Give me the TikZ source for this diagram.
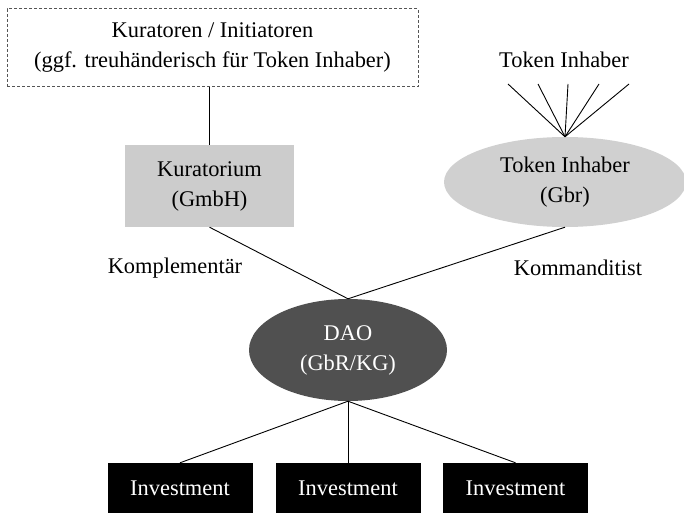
\documentclass[tikz,border=0pt]{standalone}
\usepackage{fontspec}
\setmainfont{Liberation Serif}
\usetikzlibrary{shapes.geometric}
\definecolor{boxgray}{HTML}{CCCCCC}
\definecolor{ellgray}{HTML}{D0D0D0}
\definecolor{daogray}{HTML}{505050}
\definecolor{dashgray}{HTML}{555555}
\begin{document}
\begin{tikzpicture}[x=1pt,y=-1pt,
  every node/.style={font=\fontsize{22.4}{30}\selectfont, align=center, inner sep=0pt},
  link/.style={draw=black, line width=0.9pt},
  initbox/.style={draw=dashgray, line width=1pt, dash pattern=on 3pt off 2pt,
    minimum width=411pt, minimum height=78pt},
  kurbox/.style={fill=boxgray, minimum width=169pt, minimum height=82pt},
  tokell/.style={ellipse, fill=ellgray, minimum width=242pt, minimum height=90pt},
  daoell/.style={ellipse, fill=daogray, text=white, minimum width=198pt, minimum height=102pt},
  invbox/.style={fill=black, text=white, minimum width=145pt, minimum height=50pt}]
\useasboundingbox (0,0) rectangle (684,513);

% upper level
\node[initbox] (init) at (212.5,48) {Kuratoren / Initiatoren\\(ggf. treuhänderisch für Token Inhaber)};
\node[kurbox] (kur) at (209.5,186) {Kuratorium\\(GmbH)};
\node (holders) at (564,60) {Token Inhaber};
\node[tokell] (tok) at (565,182) {Token Inhaber\\(Gbr)};

% fan of individual holders
\coordinate (f1) at (508,84);
\coordinate (f2) at (538,84);
\coordinate (f3) at (568,84);
\coordinate (f4) at (599,84);
\coordinate (f5) at (629,84);

% DAO and investments
\node[daoell] (dao) at (348,350) {DAO\\(GbR/KG)};
\node[invbox] (inv1) at (180,488) {Investment};
\node[invbox] (inv2) at (348,488) {Investment};
\node[invbox] (inv3) at (515.5,488) {Investment};

% role labels
\node (komp) at (175,268) {Komplementär};
\node (komm) at (578,268) {Kommanditist};

% connectors
\draw[link] (init.south -| kur.north) -- (kur.north);
\foreach \f in {f1,f2,f3,f4,f5} \draw[link] (\f) -- (tok.north);
\draw[link] (kur.south) -- (dao.north);
\draw[link] (tok.south) -- (dao.north);
\draw[link] (dao.south) -- (inv1.north);
\draw[link] (dao.south) -- (inv2.north);
\draw[link] (dao.south) -- (inv3.north);
\end{tikzpicture}
\end{document}
